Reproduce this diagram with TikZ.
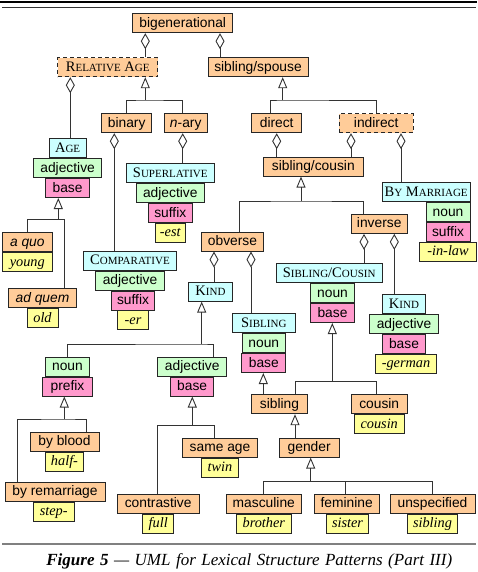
\documentclass[tikz,border=0pt]{standalone}
\usepackage{fontspec}
\setmainfont{Liberation Serif}
\setsansfont{Liberation Sans}
\usetikzlibrary{arrows.meta}
\definecolor{orbg}{RGB}{255,204,153}
\definecolor{cybg}{RGB}{204,255,255}
\definecolor{grbg}{RGB}{204,255,204}
\definecolor{pkbg}{RGB}{255,153,204}
\definecolor{yebg}{RGB}{255,255,153}
\newcommand{\smc}[2]{#1{\fontsize{11}{12}\selectfont #2}}
\tikzset{
box/.style={draw=black!85, line width=0.9pt, inner sep=0pt, minimum height=19pt, text height=10.5pt, text depth=2.5pt, anchor=north},
wd/.style={minimum width=#1pt},
orbox/.style={box, fill=orbg, font=\sffamily\fontsize{13.8}{15}\selectfont},
cybox/.style={box, fill=cybg, font=\rmfamily\fontsize{14.5}{16}\selectfont},
grbox/.style={box, fill=grbg, font=\sffamily\fontsize{13.8}{15}\selectfont},
pkbox/.style={box, fill=pkbg, font=\sffamily\fontsize{13.8}{15}\selectfont},
yebox/.style={box, fill=yebg, font=\rmfamily\itshape\fontsize{14.3}{16}\selectfont},
abstr/.style={dash pattern=on 4pt off 3pt},
conn/.style={draw=black!80, line width=0.9pt},
agg/.style={conn, -{Diamond[open, length=16pt, width=9pt]}},
gen/.style={conn, -{Triangle[open, length=11pt, width=9pt]}}
}
\begin{document}
\begin{tikzpicture}[x=1pt, y=-1pt]
\useasboundingbox (0,0) rectangle (477,572);
\draw[line width=2pt] (0,1.7) -- (477,1.7);
\draw[line width=0.9pt, black!80] (2,7.3) -- (476,7.3);
\draw[line width=2pt, black!50] (2,544.3) -- (476,544.3);

\node[orbox, wd=100] (bigen) at (182.7,13.3) {bigenerational};
\node[orbox, abstr, wd=100] (relage) at (107.7,57.3) {\rmfamily\fontsize{14.5}{16}\selectfont\smc{R}{ELATIVE} \smc{A}{GE}};
\node[orbox, wd=100] (sibsp) at (258,57.3) {sibling/spouse};
\node[orbox, wd=50] (binary) at (126.7,113.3) {binary};
\node[orbox, wd=43] (nary) at (185.7,113.3) {\textit{n}-ary};
\node[orbox, wd=50] (direct) at (276.7,113.3) {direct};
\node[orbox, abstr, wd=74] (indirect) at (376.2,113.3) {indirect};

\node[cybox, wd=36.7] (age) at (67.6,138.3) {\smc{A}{GE}};
\node[grbox, wd=68.3] (ageadj) at (age.south) {adjective};
\node[pkbox, wd=43.7] (agebase) at (ageadj.south) {base};
\node[orbox, wd=50] (aquo) at (27.3,232.3) {\textit{a quo}};
\node[yebox, wd=50] (young) at (aquo.south) {young};
\node[orbox, wd=68.3] (adquem) at (42.5,288.3) {\textit{ad quem}};
\node[yebox, wd=31] (old) at (adquem.south) {old};

\node[cybox, wd=87.3] (super) at (170.3,163.3) {\smc{S}{UPERLATIVE}};
\node[grbox, wd=68.3] (supadj) at (super.south) {adjective};
\node[pkbox, wd=44] (supsuf) at (supadj.south) {suffix};
\node[yebox, wd=30.7] (est) at (supsuf.south) {-est};

\node[cybox, wd=93.3] (comp) at (130,250.7) {\smc{C}{OMPARATIVE}};
\node[grbox, wd=68.7] (compadj) at (comp.south) {adjective};
\node[pkbox, wd=43.3] (compsuf) at (133,0 |- compadj.south) {suffix};
\node[yebox, wd=31] (er) at (compsuf.south) {-er};

\node[orbox, wd=100] (sibcou) at (313.3,156.7) {sibling/cousin};
\node[cybox, wd=88] (bymar) at (426.2,182.3) {\smc{B}{Y} \smc{M}{ARRIAGE}};
\node[grbox, wd=44] (bmnoun) at (448,0 |- bymar.south) {noun};
\node[pkbox, wd=44] (bmsuf) at (bmnoun.south) {suffix};
\node[yebox, wd=56.7] (inlaw) at (bmsuf.south) {-in-law};

\node[orbox, wd=61.7] (obverse) at (232.5,231.7) {obverse};
\node[orbox, wd=56] (inverse) at (379.2,214) {inverse};
\node[cybox, wd=44.3] (kindl) at (210.5,281.7) {\smc{K}{IND}};
\node[cybox, wd=62.3] (sibling) at (263.8,313.3) {\smc{S}{IBLING}};
\node[grbox, wd=43.3] (sgnoun) at (sibling.south) {noun};
\node[pkbox, wd=44] (sgbase) at (sgnoun.south) {base};
\node[cybox, wd=106.3] (sibcouc) at (329.2,263.3) {\smc{S}{IBLING}/\smc{C}{OUSIN}};
\node[grbox, wd=43.7] (scnoun) at (332.5,0 |- sibcouc.south) {noun};
\node[pkbox, wd=43.7] (scbase) at (scnoun.south) {base};
\node[cybox, wd=43.3] (kindr) at (404,294.3) {\smc{K}{IND}};
\node[grbox, wd=68.3] (kradj) at (kindr.south) {adjective};
\node[pkbox, wd=43.3] (krbase) at (kradj.south) {base};
\node[yebox, wd=60.7] (german) at (406,0 |- krbase.south) {-german};

\node[grbox, wd=43.7] (lnoun) at (67.5,356.7) {noun};
\node[pkbox, wd=50] (prefix) at (lnoun.south) {prefix};
\node[grbox, wd=69] (madj) at (192.2,356.7) {adjective};
\node[pkbox, wd=43.3] (mbase) at (madj.south) {base};
\node[orbox, wd=69] (byblood) at (64.5,431.7) {by blood};
\node[yebox, wd=37.7] (half) at (byblood.south) {half-};
\node[orbox, wd=100] (byrem) at (55,481.7) {by remarriage};
\node[yebox, wd=40.7] (steplbl) at (53.7,0 |- byrem.south) {step-};
\node[orbox, wd=81.7] (contr) at (158.2,494) {contrastive};
\node[yebox, wd=31] (full) at (contr.south) {full};
\node[orbox, wd=74.7] (sameage) at (220,437.7) {same age};
\node[yebox, wd=37.7] (twin) at (sameage.south) {twin};

\node[orbox, wd=55.7] (sib) at (279.5,394.3) {sibling};
\node[orbox, wd=56] (cousin) at (379.2,394.3) {cousin};
\node[yebox, wd=50] (cousinit) at (cousin.south) {cousin};
\node[orbox, wd=59.7] (gender) at (309.2,437.7) {gender};
\node[orbox, wd=75.7] (masc) at (263.8,494) {masculine};
\node[yebox, wd=55] (brother) at (masc.south) {brother};
\node[orbox, wd=65.3] (fem) at (346.7,494) {feminine};
\node[yebox, wd=41.7] (sister) at (347.5,0 |- fem.south) {sister};
\node[orbox, wd=85] (unspec) at (432.5,494) {unspecified};
\node[yebox, wd=50] (siblingit) at (unspec.south) {sibling};

\draw[agg] (145.3,0 |- relage.north) -- (145.3,0 |- bigen.south);
\draw[agg] (220,0 |- sibsp.north) -- (220,0 |- bigen.south);
\draw[agg] (70.3,0 |- age.north) -- (70.3,0 |- relage.south);
\draw[agg] (114.3,0 |- comp.north) -- (114.3,0 |- binary.south);
\draw[agg] (182.7,0 |- super.north) -- (182.7,0 |- nary.south);
\draw[agg] (276.7,0 |- sibcou.north) -- (276.7,0 |- direct.south);
\draw[agg] (351,0 |- sibcou.north) -- (351,0 |- indirect.south);
\draw[agg] (401,0 |- bymar.north) -- (401,0 |- indirect.south);
\draw[agg] (364,0 |- sibcouc.north) -- (364,0 |- inverse.south);
\draw[agg] (394.3,0 |- kindr.north) -- (394.3,0 |- inverse.south);
\draw[agg] (214,0 |- kindl.north) -- (214,0 |- obverse.south);
\draw[agg] (251,0 |- sibling.north) -- (251,0 |- obverse.south);

\coordinate (rabus) at (145.3,100);
\draw[conn] (126.7,0 |- binary.north) |- (rabus) -| (182.7,0 |- nary.north);
\draw[gen] (rabus) -- (rabus |- relage.south);
\coordinate (ssbus) at (282.7,100);
\draw[conn] (270,0 |- direct.north) |- (ssbus) -| (376,0 |- indirect.north);
\draw[gen] (ssbus) -- (ssbus |- sibsp.south);
\coordinate (agbus) at (58.3,219.3);
\draw[conn] (27.3,0 |- aquo.north) |- (agbus) -| (64.3,0 |- adquem.north);
\draw[gen] (agbus) -- (agbus |- agebase.south);
\coordinate (scbus) at (301,201);
\draw[conn] (239,0 |- obverse.north) |- (scbus) -| (363.3,0 |- inverse.north);
\draw[gen] (scbus) -- (scbus |- sibcou.south);
\coordinate (kibus) at (201.7,344);
\draw[conn] (67.7,0 |- lnoun.north) |- (kibus) -| (213.3,0 |- madj.north);
\draw[gen] (kibus) -- (kibus |- kindl.south);
\coordinate (prbus) at (64.3,419);
\draw[conn] (17.7,0 |- byrem.north) |- (prbus) -| (86,0 |- byblood.north);
\draw[gen] (prbus) -- (prbus |- prefix.south);
\coordinate (mbbus) at (192.3,425.7);
\draw[conn] (157.7,0 |- contr.north) |- (mbbus) -| (214,0 |- sameage.north);
\draw[gen] (mbbus) -- (mbbus |- mbase.south);
\coordinate (cbbus) at (332.3,381.7);
\draw[conn] (295,0 |- sib.north) |- (cbbus) -| (376,0 |- cousin.north);
\draw[gen] (cbbus) -- (cbbus |- scbase.south);
\draw[gen] (263.3,0 |- sib.north) -- (263.3,0 |- sgbase.south);
\draw[gen] (295,0 |- gender.north) -- (295,0 |- sib.south);
\coordinate (gebus) at (310.7,481.7);
\draw[conn] (263.3,0 |- masc.north) |- (gebus) -| (432.3,0 |- unspec.north);
\draw[conn] (345,0 |- fem.north) -- (345,0 |- gebus);
\draw[gen] (gebus) -- (gebus |- gender.south);

\node[font=\rmfamily\itshape\fontsize{17}{19}\selectfont] (caption) at (249.3,561.5) {\spaceskip=5.5pt plus 1pt\relax\textbf{Figure 5} — UML for Lexical Structure Patterns (Part III)};
\end{tikzpicture}
\end{document}
